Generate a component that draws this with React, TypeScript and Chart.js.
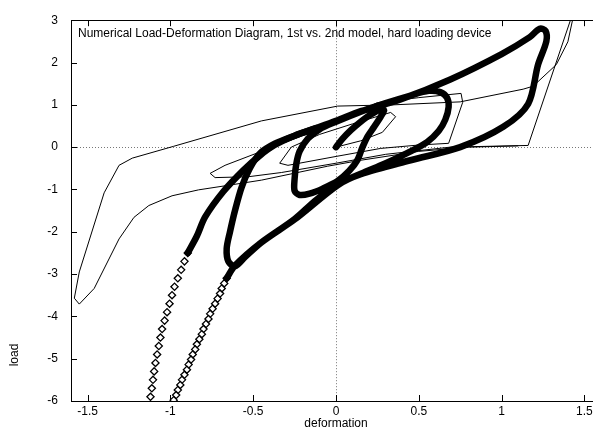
import React, { useEffect, useRef } from "react";
import { Chart, registerables } from "chart.js";

Chart.register(...registerables);

const xTicks = [-1.5, -1, -0.5, 0, 0.5, 1, 1.5];
const yTicks = [-6, -5, -4, -3, -2, -1, 0, 1, 2, 3];

// 1st model (thin polyline)
const model1: [number, number][] = [
  [0, 0], [0.15, 0.15], [0.28, 0.35], [0.36, 0.72],
  [0.33, 0.82], [0.1, 0.55], [-0.1, 0.3], [-0.27, 0.0], [-0.34, -0.38],
  [-0.29, -0.43], [0.0, -0.22], [0.27, -0.03], [0.5, 0.05], [0.68, 0.09],
  [0.765, 1.06], [0.755, 1.27],
  [0.5, 1.17], [0.25, 1.05], [0.0, 0.6], [-0.25, 0.2], [-0.45, -0.1],
  [-0.67, -0.43], [-0.76, -0.62],
  [-0.73, -0.72], [-0.53, -0.7], [-0.33, -0.6], [0.0, -0.38], [0.3, -0.17],
  [0.69, 0.0], [1.16, 0.04], [1.45, 3.4],
  [1.4, 2.49], [1.33, 1.95], [1.19, 1.44], [1.13, 1.37], [0.75, 1.07],
  [0.35, 1.0], [0.01, 0.97], [-0.45, 0.62], [-0.98, 0.02], [-1.23, -0.26],
  [-1.31, -0.43], [-1.4, -1.08], [-1.55, -2.95], [-1.58, -3.57], [-1.55, -3.71],
  [-1.46, -3.34], [-1.31, -2.17], [-1.22, -1.66], [-1.13, -1.38], [-0.99, -1.15],
  [-0.83, -1.01], [-0.63, -0.89], [-0.45, -0.78], [-0.05, -0.45], [0.15, -0.31],
  [0.5, -0.1], [0.8, 0.0], [1.1, 0.03],
];

// 2nd model (dense diamond markers): spiral of growing loops
const model2Loops: [number, number][] = [
  [0, 0], [0.04, 0.2], [0.09, 0.4], [0.14, 0.57], [0.19, 0.72], [0.24, 0.84],
  [0.28, 0.92], [0.29, 0.86], [0.27, 0.72], [0.23, 0.48], [0.19, 0.25],
  [0.16, 0.0], [0.13, -0.3], [0.08, -0.56], [0.01, -0.8], [-0.08, -0.98],
  [-0.16, -1.1], [-0.22, -1.13], [-0.25, -1.03], [-0.25, -0.75], [-0.24, -0.4],
  [-0.22, -0.1], [-0.17, 0.2], [-0.1, 0.42], [0, 0.6], [0.15, 0.84],
  [0.3, 1.04], [0.45, 1.22], [0.56, 1.33], [0.63, 1.3], [0.67, 1.17],
  [0.68, 0.95], [0.66, 0.65], [0.62, 0.38], [0.55, 0.12], [0.45, -0.1],
  [0.3, -0.38], [0.15, -0.63], [0.01, -0.88], [-0.12, -1.25], [-0.25, -1.7],
  [-0.45, -2.25], [-0.55, -2.6], [-0.61, -2.82], [-0.65, -2.7], [-0.66, -2.4],
  [-0.64, -2.0], [-0.61, -1.5], [-0.57, -0.95], [-0.52, -0.5], [-0.46, -0.15],
  [-0.37, 0.08], [-0.25, 0.27], [-0.12, 0.45], [0, 0.62], [0.15, 0.85],
  [0.39, 1.13], [0.69, 1.6], [1.0, 2.2], [1.17, 2.6], [1.23, 2.8],
  [1.265, 2.75], [1.27, 2.5], [1.22, 1.95], [1.16, 1.02], [1.01, 0.48],
  [0.75, 0.0], [0.45, -0.31], [0.15, -0.64], [0.01, -0.9], [-0.25, -1.71],
  [-0.45, -2.25], [-0.61, -2.8], [-0.66, -3.1],
];

// 2nd model: descending tail (individual diamonds)
const model2TailDown: [number, number][] = [
  [-0.66, -3.1], [-0.675, -3.22], [-0.69, -3.34], [-0.7, -3.46], [-0.715, -3.58],
  [-0.73, -3.7], [-0.745, -3.82], [-0.76, -3.94], [-0.77, -4.06], [-0.785, -4.18],
  [-0.8, -4.3], [-0.81, -4.42], [-0.825, -4.54], [-0.84, -4.66], [-0.85, -4.78],
  [-0.865, -4.9], [-0.875, -5.02], [-0.89, -5.14], [-0.9, -5.26], [-0.915, -5.38],
  [-0.93, -5.5], [-0.94, -5.62], [-0.955, -5.74], [-0.965, -5.86], [-0.98, -5.98],
  [-0.99, -6.1],
];

// 2nd model: returning tail from below (individual diamonds)
const model2TailUp: [number, number][] = [
  [-1.125, -6.1], [-1.12, -5.9], [-1.112, -5.7], [-1.105, -5.5], [-1.098, -5.3],
  [-1.09, -5.1], [-1.08, -4.9], [-1.07, -4.7], [-1.06, -4.5], [-1.05, -4.3],
  [-1.035, -4.1], [-1.02, -3.9], [-1.005, -3.7], [-0.99, -3.5], [-0.975, -3.3],
  [-0.955, -3.1], [-0.935, -2.9], [-0.915, -2.7], [-0.895, -2.5],
];

// 2nd model: return branch joining the loading band
const model2Return: [number, number][] = [
  [-0.895, -2.5], [-0.84, -2.1], [-0.79, -1.65], [-0.68, -1.05], [-0.56, -0.55],
  [-0.46, -0.2], [-0.37, 0.05], [-0.25, 0.27], [-0.12, 0.45],
];

const toXY = (a: [number, number][]) => a.map(([x, y]) => ({ x, y }));

const TITLE = "Numerical Load-Deformation Diagram, 1st vs. 2nd model, hard loading device";
const FONT = "Liberation Sans, Arial, Helvetica, sans-serif";

export default function App() {
  const ref = useRef<HTMLCanvasElement>(null);
  useEffect(() => {
    const canvas = ref.current!;
    document.body.style.margin = "0";
    const decor = {
      id: "decor",
      beforeDatasetsDraw(chart: any) {
        const { ctx, chartArea: a, scales } = chart;
        const x0 = scales.x.getPixelForValue(0);
        const y0 = scales.y.getPixelForValue(0);
        ctx.save();
        ctx.strokeStyle = "#777";
        ctx.lineWidth = 1;
        ctx.setLineDash([1, 2]);
        ctx.beginPath();
        ctx.moveTo(Math.round(x0) + 0.5, a.top);
        ctx.lineTo(Math.round(x0) + 0.5, a.bottom);
        ctx.moveTo(a.left, Math.round(y0) + 0.5);
        ctx.lineTo(a.right, Math.round(y0) + 0.5);
        ctx.stroke();
        ctx.restore();
      },
      afterDatasetsDraw(chart: any) {
        const { ctx, chartArea: a, scales } = chart;
        ctx.save();
        ctx.strokeStyle = "#000";
        ctx.lineWidth = 1;
        ctx.strokeRect(Math.round(a.left) + 0.5, Math.round(a.top) + 0.5,
          Math.round(a.right - a.left), Math.round(a.bottom - a.top));
        ctx.beginPath();
        const tl = 6;
        xTicks.forEach((v) => {
          const p = Math.round(scales.x.getPixelForValue(v)) + 0.5;
          ctx.moveTo(p, a.bottom); ctx.lineTo(p, a.bottom - tl);
          ctx.moveTo(p, a.top); ctx.lineTo(p, a.top + tl);
        });
        yTicks.forEach((v) => {
          const p = Math.round(scales.y.getPixelForValue(v)) + 0.5;
          ctx.moveTo(a.left, p); ctx.lineTo(a.left + tl, p);
          ctx.moveTo(a.right, p); ctx.lineTo(a.right - tl, p);
        });
        ctx.stroke();
        ctx.fillStyle = "#000";
        ctx.font = "12px " + FONT;
        ctx.textBaseline = "middle";
        ctx.textAlign = "left";
        ctx.fillText(TITLE, a.left + 7, a.top + 13);
        ctx.textAlign = "center";
        ctx.fillText("deformation", scales.x.getPixelForValue(0), 424);
        ctx.translate(15, 355);
        ctx.rotate(-Math.PI / 2);
        ctx.fillText("load", 0, 0);
        ctx.restore();
      },
    };
    const band = (data: [number, number][]) => ({
      data: toXY(data),
      showLine: true,
      borderColor: "#000",
      borderWidth: 6.5,
      borderCapStyle: "round",
      borderJoinStyle: "round",
      pointRadius: 0,
      tension: 0.3,
    });
    const chain = (data: [number, number][]) => ({
      data: toXY(data),
      showLine: false,
      pointStyle: "rectRot",
      pointRadius: 3.6,
      pointBorderWidth: 1.3,
      pointBorderColor: "#000",
      pointBackgroundColor: "rgba(255,255,255,0.5)",
    });
    const chart = new Chart(canvas, {
      type: "scatter",
      data: {
        datasets: [
          {
            data: toXY(model1),
            showLine: true,
            borderColor: "#000",
            borderWidth: 1,
            pointRadius: 0,
            tension: 0,
          },
          band(model2Loops),
          band(model2Return),
          chain(model2TailDown),
          chain(model2TailUp),
        ] as any,
      },
      options: {
        responsive: false,
        animation: false,
        layout: { padding: { left: 0, top: 15, right: 19, bottom: 0 } },
        plugins: { legend: { display: false }, tooltip: { enabled: false } },
        scales: {
          x: {
            type: "linear",
            min: -1.6,
            max: 1.6,
            afterFit: (s: any) => { s.height = 29; },
            grid: { display: false, drawTicks: false },
            border: { display: false },
            ticks: {
              includeBounds: false,
              stepSize: 0.5,
              padding: 3,
              color: "#000",
              font: { family: FONT, size: 12 },
              maxRotation: 0,
              callback: (v: any) => String(Math.round(Number(v) * 10) / 10),
            },
          },
          y: {
            type: "linear",
            min: -6,
            max: 3,
            afterFit: (s: any) => { s.width = 71; },
            grid: { display: false, drawTicks: false },
            border: { display: false },
            ticks: {
              stepSize: 1,
              padding: 13,
              color: "#000",
              font: { family: FONT, size: 12 },
            },
          },
        },
      } as any,
      plugins: [decor],
    });
    return () => chart.destroy();
  }, []);
  return (
    <div style={{ position: "fixed", left: 0, top: 0, width: 593, height: 430, overflow: "hidden", background: "#fff" }}>
      <canvas ref={ref} width={620} height={430} style={{ display: "block" }} />
    </div>
  );
}
